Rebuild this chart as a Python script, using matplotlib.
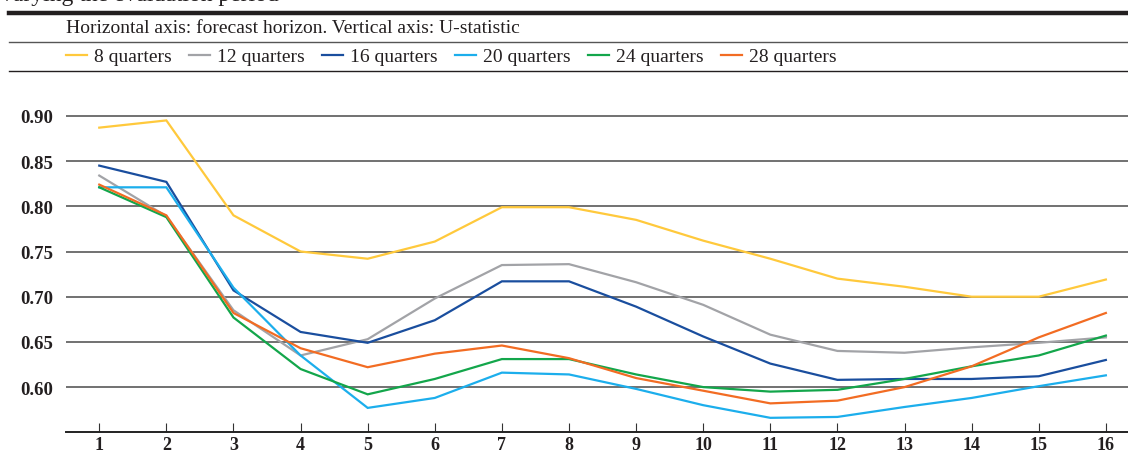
import matplotlib.pyplot as plt
from matplotlib.lines import Line2D

plt.rcParams["font.family"] = ["Liberation Serif", "DejaVu Serif"]

horizon = list(range(1, 17))

u_8q = [0.887, 0.895, 0.790, 0.750, 0.742, 0.761, 0.799, 0.799, 0.785, 0.762, 0.742, 0.720, 0.711, 0.700, 0.700, 0.719]
u_12q = [0.834, 0.789, 0.685, 0.635, 0.653, 0.698, 0.735, 0.736, 0.716, 0.691, 0.658, 0.640, 0.638, 0.644, 0.649, 0.655]
u_16q = [0.845, 0.827, 0.707, 0.661, 0.649, 0.674, 0.717, 0.717, 0.689, 0.656, 0.626, 0.608, 0.609, 0.609, 0.612, 0.630]
u_20q = [0.821, 0.821, 0.710, 0.635, 0.577, 0.588, 0.616, 0.614, 0.598, 0.580, 0.566, 0.567, 0.578, 0.588, 0.601, 0.613]
u_24q = [0.821, 0.788, 0.677, 0.620, 0.592, 0.609, 0.631, 0.631, 0.614, 0.600, 0.595, 0.597, 0.609, 0.623, 0.635, 0.657]
u_28q = [0.824, 0.790, 0.682, 0.643, 0.622, 0.637, 0.646, 0.632, 0.610, 0.596, 0.582, 0.585, 0.600, 0.623, 0.655, 0.682]

labels = ["8 quarters", "12 quarters", "16 quarters", "20 quarters", "24 quarters", "28 quarters"]
colors = ["#FFC93C", "#A2A3A7", "#1A4E9E", "#1CAEEC", "#13A64B", "#F26C23"]
yticks = [0.60, 0.65, 0.70, 0.75, 0.80, 0.85, 0.90]

W, H = 1128, 452
fig = plt.figure(figsize=(W / 100, H / 100), dpi=100)

# plot area (pixel coords from the reference)
ax_left, ax_right, ax_bottom = 65.7, 1128, 433.3
ymin, ymax = 0.55, 0.93
px_per_unit = 45.2 / 0.05
ax_top = ax_bottom - (ymax - ymin) * px_per_unit
ax = fig.add_axes([ax_left / W, 1 - ax_bottom / H, (ax_right - ax_left) / W, (ax_bottom - ax_top) / H])

series = [u_8q, u_12q, u_16q, u_20q, u_24q, u_28q]
for vals, c, lab in zip(series, colors, labels):
    ax.plot(horizon, vals, color=c, lw=1.6, label=lab, zorder=3, solid_joinstyle="miter")

ax.set_xlim(0.5, 16.33)
ax.set_ylim(ymin, ymax)
ax.set_yticks(yticks)
ax.set_yticklabels([f"{v:.2f}" for v in yticks])
ax.set_xticks(horizon)
ax.grid(axis="y", color="#4a4a4a", lw=1.1, zorder=1)
for side in ["left", "right", "top"]:
    ax.spines[side].set_visible(False)
ax.spines["bottom"].set_color("#222222")
ax.spines["bottom"].set_linewidth(1.4)
ax.tick_params(axis="y", length=0, pad=9, labelsize=13.5)
ax.tick_params(axis="x", direction="in", length=6.5, width=0.8, color="#333333", pad=3, labelsize=13)
for t in ax.get_xticklabels() + ax.get_yticklabels():
    t.set_fontweight("bold")
    t.set_color("#231f20")


def fy(y):
    return 1 - y / H


def fx(x):
    return x / W


# header block
fig.text(fx(1), fy(-4), "varying the evaluation period", fontsize=17, color="#231f20", va="center")
fig.add_artist(Line2D([fx(9), 1], [fy(13.8), fy(13.8)], color="#231f20", lw=3.2))
fig.text(fx(66), fy(28.5), "Horizontal axis: forecast horizon. Vertical axis: U-statistic",
         fontsize=14, color="#231f20", va="center")
fig.add_artist(Line2D([fx(9), 1], [fy(43), fy(43)], color="#555555", lw=1.0))
fig.add_artist(Line2D([fx(9), 1], [fy(71.5), fy(71.5)], color="#231f20", lw=1.0))

# legend row
item_x = [66, 189, 322, 455, 588, 721]
for x0, c, lab in zip(item_x, colors, labels):
    fig.add_artist(Line2D([fx(x0), fx(x0 + 21)], [fy(56), fy(56)], color=c, lw=1.6))
    fig.text(fx(x0 + 28), fy(57.5), lab, fontsize=14, color="#231f20", va="center")

fig.savefig("out.png", dpi=100)
